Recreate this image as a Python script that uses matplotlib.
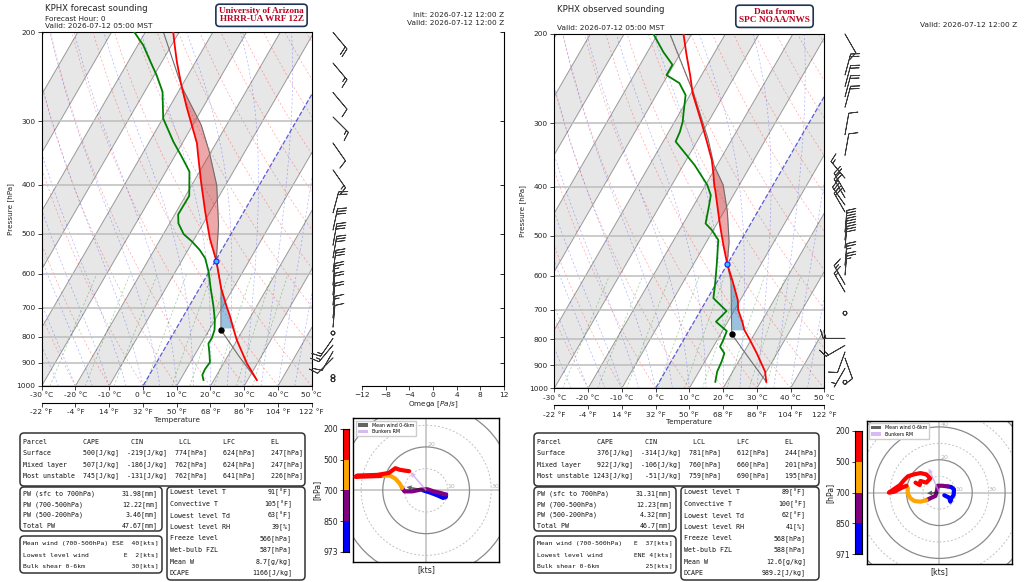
import numpy as np
import matplotlib
matplotlib.use("Agg")
import matplotlib.pyplot as plt
from matplotlib.patches import FancyBboxPatch, Circle
from matplotlib.ticker import NullLocator

# ---------------- forecast sounding (HRRR-UA WRF 12Z) ----------------
fc_p_t = [973, 902, 811, 768, 729, 697, 641, 565, 511, 452, 395, 355, 331, 305, 280.5, 254, 228.6, 211.9, 200]
fc_t = [32.7, 26.9, 19.9, 16.8, 13.9, 11.2, 6.4, 0.2, -5.5, -11.5, -17.8, -22.6, -25.7, -30.3, -35.0, -40.3, -45.6, -49.1, -51.7]
fc_p_td = [973, 951, 926, 898, 862, 824, 805, 775, 741, 697, 641, 594, 559, 538, 518, 501, 477, 458, 421, 377,
           352, 329, 296, 262, 243, 229, 212, 200]
fc_td = [16.9, 15.7, 15.5, 15.8, 14.1, 12.1, 12.2, 11.6, 10.0, 7.3, 3.3, -0.2, -3.5, -6.6, -10.3, -14.0, -17.4,
         -19.0, -18.9, -23.0, -27.9, -32.9, -39.9, -44.7, -49.3, -53.3, -58.4, -63.2]
fc_p_parcel = [973, 875, 775, 702, 641, 565, 481, 401, 344, 305, 256, 200]
fc_t_parcel = [32.7, 23.5, 13.5, 9.8, 6.4, 0.2, -5.2, -12.6, -20.6, -27.5, -39.9, -54.6]
fc_lcl = (13.5, 775)
fc_frz = (0.2, 565)
fc_cin_layer = (768, 641)
fc_cape_layer = (565, 256)

fc_barb_p = [200, 230, 263, 294, 331, 374, 455, 492, 527, 558, 595, 632, 661, 692, 734, 765, 786,
             805, 830, 855, 880, 958, 972]
fc_barb_dir = [140, 140, 140, 135, 145, 145, 15, 12, 10, 10, 8, 5, 5, 5, 5, 5, 0,
               215, 220, 210, 225, 0, 0]
fc_barb_spd = [20, 15, 10, 15, 10, 15, 20, 30, 30, 30, 30, 25, 20, 20, 15, 10, 0,
               15, 15, 10, 10, 0, 0]

fc_blue_u = [-1.5, 2.0, 5.1, 7.8, 9.1, 9.2]
fc_blue_v = [0.0, -1.1, -2.3, -3.5, -3.1, -2.0]
fc_purple_u = [9.2, 6.6, 3.5, 0.5, -2.6, -6.5, -10.0, -11.1]
fc_purple_v = [-2.0, -1.2, -0.5, 0.5, 0.3, -0.5, -0.5, 1.1]
fc_orange_u = [-11.1, -12.2, -14.2, -16.8, -21.1]
fc_orange_v = [1.1, 3.1, 5.4, 6.8, 6.6]
fc_red_u = [-21.1, -32.6, -31.8, -22.6, -17.2, -14.2, -12.3, -10.0, -7.8]
fc_red_v = [6.6, 6.2, 6.8, 7.1, 8.0, 10.2, 9.5, 9.1, 8.8]
fc_mean_wind = (-9.1, 1.5)
fc_bunkers = (-7.2, 8.3)
fc_cbar_labels = [200, 500, 700, 850, 973]

# ---------------- observed sounding (SPC) ----------------
ob_p_t = [971, 927, 853, 803, 767, 739, 701, 669, 616, 568, 521, 476, 466, 435, 406, 400, 374, 354, 324, 300,
          276, 262, 241, 220, 200]
ob_t = [31.7, 29.6, 24.0, 19.7, 16.3, 14.3, 11.1, 9.2, 4.6, -0.1, -4.5, -8.9, -9.9, -13.1, -16.3, -17.1, -20.0,
        -22.5, -27.4, -31.7, -36.5, -39.5, -43.4, -47.9, -52.4]
ob_p_td = [971, 927, 886, 853, 828, 803, 771, 739, 704, 664, 625, 571, 510, 487, 473, 435, 416, 397, 363, 326,
           312, 298, 285, 264, 250, 241, 230, 217, 200]
ob_td = [16.6, 15.4, 15.0, 14.4, 12.0, 11.8, 11.3, 6.5, 7.8, 1.7, -0.1, -3.0, -6.8, -10.5, -13.4, -15.5, -16.7,
         -19.5, -26.6, -36.3, -36.7, -37.6, -39.0, -41.3, -45.2, -50.4, -50.4, -55.3, -61.3]
ob_p_parcel = [971, 875, 782, 616, 568, 514, 448, 397, 363, 323, 262, 200]
ob_t_parcel = [31.7, 22.8, 13.3, 4.1, -0.1, -3.3, -9.0, -14.8, -20.9, -27.0, -39.2, -56.4]
ob_lcl = (13.3, 782)
ob_frz = (-0.1, 568)
ob_cin_layer = (767, 621)
ob_cape_layer = (568, 363)

ob_barb_p = [200, 241, 254, 266, 279, 316, 347, 385, 410, 421, 435, 449, 492, 510, 529, 572, 598, 624, 646,
             711, 797, 823, 848, 872, 913, 973]
ob_barb_dir = [150, 15, 15, 15, 15, 10, 10, 320, 330, 330, 325, 330, 5, 5, 5, 5, 5, 330, 330,
               0, 270, 240, 200, 160, 210, 0]
ob_barb_spd = [10, 20, 20, 20, 20, 10, 10, 15, 20, 20, 25, 20, 30, 30, 30, 25, 25, 15, 15,
               0, 15, 15, 10, 10, 5, 0]

ob_blue_u = [3.0, 5.9, 6.7, 7.3, 8.7, 8.9, 7.3, 5.1]
ob_blue_v = [-1.6, -3.0, -5.5, -3.4, -1.4, 2.0, 3.4, 3.8]
ob_purple_u = [5.1, 1.6, -1.0, -1.4, -2.4, -5.5, -7.9]
ob_purple_v = [3.8, 4.2, 4.2, 1.4, -2.0, -3.4, -4.6]
ob_orange_u = [-7.9, -11.5, -15.2, -17.6, -19.2, -19.2, -20.0]
ob_orange_v = [-4.6, -5.5, -5.1, -3.4, -0.6, 2.6, 4.2]
ob_red_u = [-20.0, -23.6, -27.3, -30.7, -28.7, -24.0, -21.6, -19.2, -15.6, -11.5, -7.9, -5.5, -7.9, -11.5, -11.9, -14.5]
ob_red_v = [4.2, 2.6, 0.6, 0.0, 1.4, 4.6, 7.5, 9.9, 11.1, 11.9, 11.1, 8.7, 6.1, 7.1, 4.6, 6.1]
ob_mean_wind = (-7.5, -0.4)
ob_bunkers = (-6.5, 14.7)
ob_cbar_labels = [200, 500, 700, 850, 971]

# ---------------- tables ----------------
parcel_names = ["Surface", "Mixed layer", "Most unstable"]
fc_cape = [500, 507, 745]
fc_cin = [-219, -186, -131]
fc_lcl_p = [774, 762, 762]
fc_lfc_p = [624, 624, 641]
fc_el_p = [247, 247, 226]
ob_cape = [376, 922, 1243]
ob_cin = [-314, -106, -51]
ob_lcl_p = [781, 760, 759]
ob_lfc_p = [612, 660, 690]
ob_el_p = [244, 201, 195]

pw_names = ["PW (sfc to 700hPa)", "PW (700-500hPa)", "PW (500-200hPa)", "Total PW"]
fc_pw = [31.98, 12.22, 3.46, 47.67]
ob_pw = [31.31, 12.23, 4.32, 46.7]

wind_names = ["Mean wind (700-500hPa)", "Lowest level wind", "Bulk shear 0-6km"]
fc_wind = ["ESE  40[kts]", "E  2[kts]", "30[kts]"]
ob_wind = ["E  37[kts]", "ENE 4[kts]", "25[kts]"]

thermo_names = ["Lowest level T", "Convective T", "Lowest level Td", "Lowest level RH",
                "Freeze level", "Wet-bulb FZL", "Mean W", "DCAPE"]
thermo_units = ["[°F]", "[°F]", "[°F]", "[%]", "[hPa]", "[hPa]", "[g/kg]", "[J/kg]"]
fc_thermo = [91, 105, 63, 39, 566, 587, 8.7, 1166]
ob_thermo = [89, 100, 62, 41, 568, 588, 12.6, 989.2]

LEVELS = [1000, 900, 800, 700, 600, 500, 400, 300, 200]
T_TICKS = [-30, -20, -10, 0, 10, 20, 30, 40, 50]
F_LABELS = [-22, -4, 14, 32, 50, 68, 86, 104, 122]
OMEGA_TICKS = [-12, -8, -4, 0, 4, 8, 12]
HODO_COLORS = ["red", "orange", "purple", "blue"]

W, H = 1024, 582
SKEW = 37.7
TXT = "#222222"


def rect(x0, y0, x1, y1):
    return [x0 / W, 1 - y1 / H, (x1 - x0) / W, (y1 - y0) / H]


def skx(t, p):
    return np.asarray(t, float) + SKEW * np.log(1000.0 / np.asarray(p, float))


def moist_adiabats(t0, p):
    rd, cp, lv, eps = 287.04, 1005.7, 2.501e6, 0.622

    def rate(tk, pk):
        es = 6.112 * np.exp(17.67 * (tk - 273.15) / (tk - 29.65))
        rs = eps * es / (pk - es)
        return (rd * tk + lv * rs) / (cp + lv * lv * rs * eps / (rd * tk * tk)) / pk

    t = np.asarray(t0, float) + 273.15
    out = [t.copy()]
    for i in range(1, len(p)):
        dp = p[i] - p[i - 1]
        k1 = rate(t, p[i - 1])
        k2 = rate(t + k1 * dp, p[i])
        t = t + 0.5 * (k1 + k2) * dp
        out.append(t.copy())
    return np.array(out) - 273.15


def background(ax):
    pb = np.array([1050.0, 150.0])
    for t0 in range(-100, 50, 20):
        xs = [skx(t0, 1050), skx(t0 + 10, 1050), skx(t0 + 10, 150), skx(t0, 150)]
        ax.fill(xs, [1050, 1050, 150, 150], color="#e7e7e7", lw=0, zorder=0.5)
    for t0 in range(-100, 60, 10):
        if t0 != 0:
            ax.plot(skx(t0, pb), pb, color="#999999", lw=0.7, zorder=1)
    ax.plot(skx(0, pb), pb, color="#2a2ad0", ls="--", lw=0.9, alpha=0.75, zorder=1.3)

    pp = np.linspace(1000, 200, 60)
    for t0 in np.arange(-40, 201, 10):
        tk = (t0 + 273.15) * (pp / 1000.0) ** 0.2857 - 273.15
        ax.plot(skx(tk, pp), pp, color="red", ls="--", lw=0.5, alpha=0.35, dashes=(3, 3), zorder=1)
    pm = np.linspace(1000, 200, 120)
    moist = moist_adiabats(np.arange(-40, 46, 5), pm)
    for k in range(moist.shape[1]):
        ax.plot(skx(moist[:, k], pm), pm, color="blue", ls="--", lw=0.5, alpha=0.3, dashes=(3, 3), zorder=1)
    pw = np.linspace(1000, 600, 30)
    for w in np.array([0.4, 1, 2, 4, 7, 10, 16, 24, 32]) / 1000.0:
        e = pw * w / (0.622 + w)
        lnr = np.log(e / 6.112)
        td = 243.5 * lnr / (17.67 - lnr)
        ax.plot(skx(td, pw), pw, color="green", ls="--", lw=0.5, alpha=0.4, dashes=(3, 3), zorder=1)
    for p in LEVELS:
        ax.axhline(p, color="#bdbdbd", lw=1.1, zorder=1.2)


def layer_fill(ax, p_env, t_env, p_par, t_par, layer, color, alpha, cape):
    pg = np.geomspace(layer[0], layer[1], 150)
    pe, te = np.asarray(p_env, float), np.asarray(t_env, float)
    pq, tq = np.asarray(p_par, float), np.asarray(t_par, float)
    t1 = np.interp(np.log(pg), np.log(pe[::-1]), te[::-1])
    t2 = np.interp(np.log(pg), np.log(pq[::-1]), tq[::-1])
    where = t2 > t1 if cape else t1 >= t2
    ax.fill_betweenx(pg, skx(t1, pg), skx(t2, pg), where=where, interpolate=True,
                     color=color, alpha=alpha, lw=0, zorder=2)


def draw_skewt(fig, box, p_t, t, p_td, td, p_par, t_par, lcl, frz, cin_layer, cape_layer):
    ax = fig.add_axes(rect(*box))
    background(ax)
    layer_fill(ax, p_t, t, p_par, t_par, cin_layer, "tab:blue", 0.45, cape=False)
    layer_fill(ax, p_t, t, p_par, t_par, cape_layer, "tab:red", 0.4, cape=True)
    ax.plot(skx(t_par, p_par), p_par, color="#6e6e6e", lw=0.8, zorder=2.5)
    ax.plot(skx(t, p_t), p_t, color="red", lw=1.3, zorder=3)
    ax.plot(skx(td, p_td), p_td, color="green", lw=1.3, zorder=3)
    ax.plot(skx(*lcl), lcl[1], "o", color="black", ms=3.6, zorder=4)
    ax.plot(skx(*frz), frz[1], "o", mfc="#30c8ff", mec="#1a2cff", ms=3.6, mew=0.9, zorder=4)

    ax.set_yscale("log")
    ax.set_ylim(1000, 200)
    ax.set_xlim(-30, 50)
    ax.set_yticks(LEVELS)
    ax.set_yticklabels([str(p) for p in LEVELS])
    ax.yaxis.set_minor_locator(NullLocator())
    ax.set_xticks(T_TICKS)
    ax.set_xticklabels([f"{v} °C" for v in T_TICKS])
    ax.set_ylabel("Pressure [hPa]", fontsize=5.2, color=TXT, labelpad=2)
    ax.tick_params(labelsize=5.3, length=3, width=0.6, pad=1.5, colors=TXT)
    for s in ax.spines.values():
        s.set_linewidth(0.8)

    sec = ax.secondary_xaxis(-0.048)
    sec.set_xticks(T_TICKS)
    sec.set_xticklabels([f"{v} °F" for v in F_LABELS])
    sec.tick_params(labelsize=5.3, length=3, width=0.6, pad=1.5, colors=TXT)
    sec.spines["bottom"].set_linewidth(0.8)
    sec.set_xlabel("Temperature", fontsize=5.2, color=TXT, labelpad=1)
    return ax


def draw_barbs(fig, box, base_x, p, wdir, wspd):
    ax = fig.add_axes(rect(*box))
    ax.set_xlim(0, box[2] - box[0])
    ax.set_yscale("log")
    ax.set_ylim(1000, 200)
    ax.axis("off")
    d = np.radians(wdir)
    s = np.asarray(wspd, float)
    u = -s * np.sin(d)
    v = -s * np.cos(d)
    ax.barbs(np.full(len(p), base_x), p, u, v, length=5.6, linewidth=0.6,
             color="#3a3a3a", clip_on=False, sizes=dict(emptybarb=0.09))


def draw_omega(fig, box):
    ax = fig.add_axes(rect(*box))
    ax.set_xlim(-12, 12)
    ax.set_xticks(OMEGA_TICKS)
    ax.set_yscale("log")
    ax.set_ylim(1000, 200)
    ax.set_yticks(LEVELS)
    ax.set_yticklabels([])
    ax.yaxis.set_minor_locator(NullLocator())
    ax.yaxis.tick_right()
    ax.spines["left"].set_visible(False)
    ax.spines["top"].set_visible(False)
    ax.tick_params(axis="y", direction="in", length=3, width=0.6)
    ax.tick_params(axis="x", labelsize=5.3, length=3, width=0.6, pad=1.5, colors=TXT)
    ax.set_xlabel("Omega [$Pa/s$]", fontsize=5.2, color=TXT, labelpad=1)


def draw_hodo(fig, box, lim, segs, mean_uv, bunk_uv):
    ax = fig.add_axes(rect(*box))
    ratio = (box[3] - box[1]) / (box[2] - box[0])
    ax.set_xlim(-lim, lim)
    ax.set_ylim(-lim * ratio, lim * ratio)
    ax.axhline(0, color="#c4c4c4", lw=1.2, zorder=1)
    ax.axvline(0, color="#c4c4c4", lw=1.2, zorder=1)
    for r in range(10, 80, 10):
        if r % 20 == 0:
            ax.add_patch(Circle((0, 0), r, fill=False, ec="#8a8a8a", lw=0.9, zorder=1))
            if r < lim:
                ax.text(0.6, r, str(r), fontsize=4.5, color="#b5b5b5", ha="left", va="bottom")
        else:
            ax.add_patch(Circle((0, 0), r, fill=False, ec="#c2c2c2", lw=0.7, ls=(0, (2, 2)), zorder=1))
            if r < lim:
                ax.text(r, 0.4, str(r), fontsize=4.5, color="#b5b5b5", ha="left", va="bottom")
    for (u, v), c in zip(segs, HODO_COLORS[::-1]):
        ax.plot(u, v, color=c, lw=3.0, solid_capstyle="round", solid_joinstyle="round", zorder=3)
    hw = lim * 0.07
    ax.arrow(0, 0, mean_uv[0], mean_uv[1], width=lim * 0.022, head_width=hw, head_length=hw,
             length_includes_head=True, color="#222222", alpha=0.7, lw=0, zorder=4,
             label="Mean wind 0-6km")
    ax.arrow(0, 0, bunk_uv[0], bunk_uv[1], width=lim * 0.022, head_width=hw, head_length=hw,
             length_includes_head=True, color="#c79df0", alpha=0.7, lw=0, zorder=4,
             label="Bunkers RM")
    ax.legend(loc="upper left", fontsize=3.4, handlelength=2.2, handleheight=0.8,
              borderpad=0.4, labelspacing=0.3, framealpha=1, edgecolor="#cccccc", fancybox=False)
    ax.set_xticks([])
    ax.set_yticks([])
    ax.set_xlabel("[kts]", fontsize=5.6, color=TXT, labelpad=2)
    for s in ax.spines.values():
        s.set_linewidth(1.0)


def draw_cbar(fig, box, labels):
    cb = fig.add_axes(rect(*box))
    for i, c in enumerate(HODO_COLORS):
        cb.axhspan(i, i + 1, color=c, lw=0)
    cb.set_ylim(4, 0)
    cb.set_xlim(0, 1)
    cb.set_xticks([])
    cb.set_yticks(range(5))
    cb.set_yticklabels([str(v) for v in labels])
    cb.tick_params(axis="y", labelsize=5.6, length=2.5, width=0.6, pad=1, colors=TXT)
    cb.set_ylabel("[hPa]", fontsize=5.6, color=TXT, labelpad=1)
    for s in cb.spines.values():
        s.set_linewidth(0.8)


def box(ov, x0, y0, x1, y1):
    ov.add_patch(FancyBboxPatch((x0, y0), x1 - x0, y1 - y0, boxstyle="round,pad=0,rounding_size=4",
                                fc="white", ec="#333333", lw=1.1))


def mono(ov, x, y, s, ha="left", size=4.75):
    ov.text(x, y, s, fontsize=size, family="DejaVu Sans Mono", color="#111111", ha=ha, va="center")


def draw_tables(ov, dx, cape, cin, lcl, lfc, el, pw, wind, thermo):
    box(ov, 20 + dx, 433, 305 + dx, 486)
    header = "Parcel".ljust(15) + "CAPE".ljust(12) + "CIN".ljust(12) + "LCL".ljust(11) + "LFC".ljust(12) + "EL"
    mono(ov, 23 + dx, 441.5, header)
    for i, name in enumerate(parcel_names):
        row = (f"{name:<14}{str(cape[i]) + '[J/kg]':>10}{str(cin[i]) + '[J/kg]':>12}"
               f"{str(lcl[i]) + '[hPa]':>10}{str(lfc[i]) + '[hPa]':>12}{str(el[i]) + '[hPa]':>12}")
        mono(ov, 23 + dx, 453 + 11.5 * i, row)

    box(ov, 20 + dx, 487, 162 + dx, 531)
    for i, name in enumerate(pw_names):
        mono(ov, 23 + dx, 494 + 10.5 * i, name)
        mono(ov, 158 + dx, 494 + 10.5 * i, f"{pw[i]:g}[mm]", ha="right")

    box(ov, 20 + dx, 536, 162 + dx, 573)
    for i, name in enumerate(wind_names):
        line = name + " " + wind[i].rjust(34 - len(name))
        mono(ov, 23 + dx, 543 + 11.5 * i, line, size=4.6)

    box(ov, 167 + dx, 487, 305 + dx, 580)
    for i, name in enumerate(thermo_names):
        mono(ov, 170 + dx, 492.5 + 11.5 * i, name)
        mono(ov, 292 + dx, 492.5 + 11.5 * i, f"{thermo[i]:g}{thermo_units[i]}", ha="right")


fig = plt.figure(figsize=(10.24, 5.82), dpi=100)

# forecast panel
draw_skewt(fig, (41.7, 32.3, 311.7, 386), fc_p_t, fc_t, fc_p_td, fc_td, fc_p_parcel, fc_t_parcel,
           fc_lcl, fc_frz, fc_cin_layer, fc_cape_layer)
draw_barbs(fig, (312, 32.3, 356, 386), 21, fc_barb_p, fc_barb_dir, fc_barb_spd)
draw_omega(fig, (362, 32.3, 504, 386))
draw_cbar(fig, (342.7, 429, 348.7, 551.7), fc_cbar_labels)
draw_hodo(fig, (353.3, 418.3, 499, 562.3), 33.6,
          [(fc_blue_u, fc_blue_v), (fc_purple_u, fc_purple_v), (fc_orange_u, fc_orange_v), (fc_red_u, fc_red_v)],
          fc_mean_wind, fc_bunkers)

# observed panel
draw_skewt(fig, (554.3, 34, 824.3, 388.3), ob_p_t, ob_t, ob_p_td, ob_td, ob_p_parcel, ob_t_parcel,
           ob_lcl, ob_frz, ob_cin_layer, ob_cape_layer)
draw_barbs(fig, (826, 34, 880, 388.3), 19, ob_barb_p, ob_barb_dir, ob_barb_spd)
draw_cbar(fig, (855, 431, 861.7, 554.3), ob_cbar_labels)
draw_hodo(fig, (866.7, 421, 1012, 564.3), 44.2,
          [(ob_blue_u, ob_blue_v), (ob_purple_u, ob_purple_v), (ob_orange_u, ob_orange_v), (ob_red_u, ob_red_v)],
          ob_mean_wind, ob_bunkers)

# overlay for headers and tables, in pixel coordinates
ov = fig.add_axes([0, 0, 1, 1])
ov.set_xlim(0, W)
ov.set_ylim(H, 0)
ov.axis("off")

ov.text(45, 8.5, "KPHX forecast sounding", fontsize=6.1, color=TXT, va="center")
ov.text(45, 18.7, "Forecast Hour: 0", fontsize=5.3, color=TXT, va="center")
ov.text(45, 26.2, "Valid: 2026-07-12 05:00 MST", fontsize=5.3, color=TXT, va="center")
ov.text(504, 15.3, "Init: 2026-07-12 12:00 Z", fontsize=5.3, color=TXT, va="center", ha="right")
ov.text(504, 23.3, "Valid: 2026-07-12 12:00 Z", fontsize=5.3, color=TXT, va="center", ha="right")
badge = dict(boxstyle="round,pad=0.35,rounding_size=0.4", fc="white", ec="#1f3358", lw=1.2)
ov.text(261.5, 15.3, "University of Arizona\nHRRR-UA WRF 12Z", ha="center", va="center", fontsize=6.7,
        family="Liberation Serif", weight="bold", color="#b80020", linespacing=0.95, bbox=badge)

ov.text(557, 9.3, "KPHX observed sounding", fontsize=6.1, color=TXT, va="center")
ov.text(557, 28, "Valid: 2026-07-12 05:00 MST", fontsize=5.3, color=TXT, va="center")
ov.text(1017, 24.7, "Valid: 2026-07-12 12:00 Z", fontsize=5.3, color=TXT, va="center", ha="right")
ov.text(774.5, 16.3, "Data from\nSPC NOAA/NWS", ha="center", va="center", fontsize=6.7,
        family="Liberation Serif", weight="bold", color="#b80020", linespacing=0.95, bbox=badge)

draw_tables(ov, 0, fc_cape, fc_cin, fc_lcl_p, fc_lfc_p, fc_el_p, fc_pw, fc_wind, fc_thermo)
draw_tables(ov, 514, ob_cape, ob_cin, ob_lcl_p, ob_lfc_p, ob_el_p, ob_pw, ob_wind, ob_thermo)

fig.savefig("out.png", dpi=100)
